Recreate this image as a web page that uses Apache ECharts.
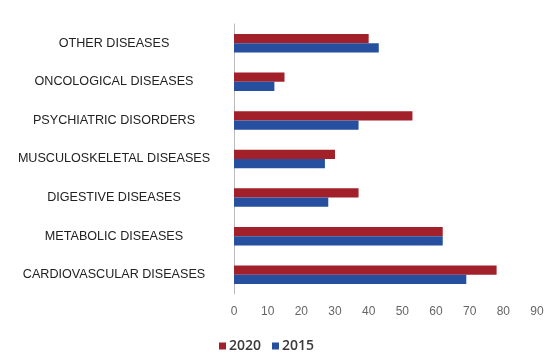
<!DOCTYPE html>
<html><head><meta charset="utf-8">
<script src="https://cdn.jsdelivr.net/npm/echarts@6/dist/echarts.min.js"></script>
<style>html,body{margin:0;padding:0;background:#fff}#c{width:553px;height:356px}</style>
</head><body><div id="c"></div>
<script>
const categories = ["CARDIOVASCULAR DISEASES","METABOLIC DISEASES","DIGESTIVE DISEASES","MUSCULOSKELETAL DISEASES","PSYCHIATRIC DISORDERS","ONCOLOGICAL DISEASES","OTHER DISEASES"];
const values2020 = [78, 62, 37, 30, 53, 15, 40];
const values2015 = [69, 62, 28, 27, 37, 12, 43];
const xTicks = [0,10,20,30,40,50,60,70,80,90];

const chart = echarts.init(document.getElementById('c'));
chart.setOption({
  animation: false,
  grid: {left: 234, right: 16, top: 24, bottom: 62, containLabel: false},
  legend: {
    data: ['2020','2015'], top: 334, left: 214,
    itemWidth: 7, itemHeight: 7, itemGap: 11, icon: 'rect',
    textStyle: {fontFamily: 'Open Sans', fontSize: 14, fontWeight: 600, color: '#3a3a3a', padding: [0,0,0,-2]}
  },
  xAxis: {
    type: 'value', min: xTicks[0], max: xTicks[xTicks.length-1], interval: 10,
    axisLine: {show: false}, axisTick: {show: false}, splitLine: {show: false},
    axisLabel: {fontFamily: 'Liberation Sans', fontSize: 12, color: '#666', margin: 12}
  },
  yAxis: {
    type: 'category', data: categories,
    axisLine: {show: true, lineStyle: {color: '#bbb', width: 1}},
    axisTick: {show: false},
    axisLabel: {fontFamily: 'Liberation Sans', fontSize: 12.6, color: '#222', align: 'center', margin: 120}
  },
  series: [
    {name: '2020', type: 'bar', data: values2020, itemStyle: {color: '#a2202a'}, barGap: '0%', barCategoryGap: '52%'},
    {name: '2015', type: 'bar', data: values2015, itemStyle: {color: '#26509f'}, barGap: '0%', barCategoryGap: '52%'}
  ]
});
</script></body></html>
